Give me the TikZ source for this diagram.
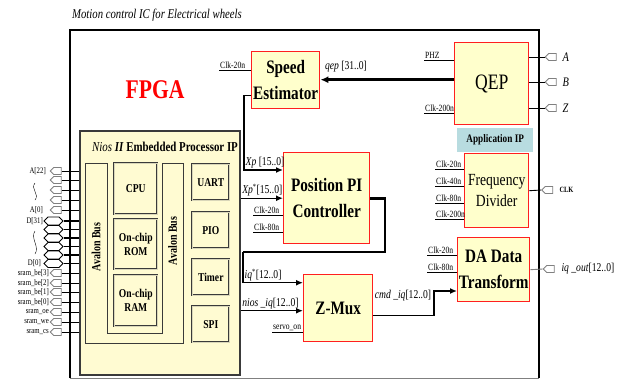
\documentclass[tikz,border=0pt]{standalone}
\usepackage{fontspec}
\setmainfont{Liberation Serif}[FakeStretch=0.8]
\usetikzlibrary{arrows.meta, positioning, shapes.symbols}
\definecolor{BoxFill}{HTML}{FFFFCC}
\definecolor{BoxLine}{HTML}{FF1F1F}
\definecolor{NiosFill}{HTML}{FFFBD2}
\definecolor{NiosLine}{HTML}{3A3A3A}
\definecolor{AppFill}{HTML}{B8DCE0}
\definecolor{PinLine}{HTML}{808080}
\newcommand{\fsz}[2]{\fontsize{#1}{#2}\selectfont}
\newcommand{\clkin}[5]{% coordinate, x, y, target block, label
    \coordinate (#1) at (#2,#3);
    \draw[wire] (#1) -- (#1 -| #4.west);
    \node[clk] (#1-lbl) at (#1) {#5};
}

\begin{document}
\begin{tikzpicture}[
    x=1pt, y=-1pt,
    blk/.style={draw=BoxLine, line width=1.4pt, fill=BoxFill, align=center,
        inner sep=0pt, anchor=north west, font=\bfseries\fsz{19}{26}},
    sub/.style={draw=NiosLine, line width=0.6pt, double=NiosFill!70!gray,
        double distance=0.6pt, fill=NiosFill, align=center,
        inner sep=0pt, anchor=north west, font=\bfseries\fsz{12}{14}},
    clk/.style={font=\fsz{9.5}{10}, anchor=south west, inner sep=1pt},
    sig/.style={font=\fsz{12}{12}, anchor=south west, inner sep=1.5pt},
    pinlbl/.style={font=\fsz{8.5}{9}, anchor=east, inner sep=0pt},
    wire/.style={line width=0.9pt},
    bus/.style={line width=2.6pt},
    arr/.style={-{Latex[length=7pt, width=6pt]}, line width=1.4pt},
    inpin/.style={signal, signal to=west, draw=PinLine, fill=white,
        line width=0.8pt, minimum width=11pt, minimum height=7pt, inner sep=0pt},
    iopin/.style={signal, signal to=west and east, draw=black, fill=white,
        line width=0.8pt, minimum width=19pt, minimum height=8pt, inner sep=0pt}
]
\useasboundingbox (0,0) rectangle (626,381);

% ===================================================================
% FRAME
% ===================================================================
\node[font=\itshape\fsz{13.4}{14}, anchor=west, inner sep=0pt] (title) at (72,15)
    {Motion control IC for Electrical wheels};
\draw[line width=2pt] (70,378) -- (70,30) -- (539,30) -- (539,378);
\draw[PinLine, line width=1pt] (70,378) -- (539,378);
\node[font=\bfseries\fsz{27}{27}, text=red] (fpga) at (155,90) {FPGA};

% ===================================================================
% NIOS II PROCESSOR
% ===================================================================
\node[draw=NiosLine, line width=1.6pt, fill=NiosFill, anchor=north west,
      minimum width=160pt, minimum height=244pt, inner sep=0pt] (nios) at (79,130) {};
\node[font=\fsz{13.6}{14}] (niostitle) at (165,147)
    {\textit{Nios \textbf{II}} \textbf{Embedded Processor IP}};

% Avalon bus
\draw[NiosLine, line width=0.8pt, fill=NiosFill]
    (85,163) -- (85,343) -- (183,343) -- (183,163) -- (162,163)
    -- (162,333) -- (107,333) -- (107,163) -- cycle;
\node[font=\bfseries\fsz{12.5}{12}, rotate=90] (busL) at (96,247) {Avalon Bus};
\node[font=\bfseries\fsz{12.5}{12}, rotate=90] (busR) at (172.5,241) {Avalon Bus};

% Core and memories
\node[sub, minimum width=43pt, minimum height=51pt] (cpu) at (114,163) {CPU};
\node[sub, minimum width=43pt, minimum height=50pt] (rom) at (114,219) {On-chip\\ROM};
\node[sub, minimum width=43pt, minimum height=51pt] (ram) at (114,275) {On-chip\\RAM};

% Peripherals
\foreach \t/\y in {UART/164, PIO/212, Timer/259, SPI/306} {
    \node[sub, minimum width=37pt, minimum height=36pt] (\t) at (192,\y) {\t};
}

% External SRAM pins
\foreach \y [count=\i] in {171,180,190,200,210} {
    \node[inpin] (apin\i) at (57.5,\y) {};
    \draw[wire] (apin\i.east) -- (apin\i.east -| nios.west);
}
\node[pinlbl] (alblA) at (46,171) {A[22]};
\node[pinlbl] (alblB) at (43,210) {A[0]};
\draw[thin] (35,183) .. controls (30,189) and (40,194) .. (35,200);

\foreach \y [count=\i] in {221,229.5,238,246.5,255,263.5} {
    \node[iopin] (dpin\i) at (53.5,\y) {};
    \draw[line width=1.2pt] (dpin\i.east) -- (dpin\i.east -| nios.west);
}
\node[pinlbl] (dlblA) at (43,221) {D[31]};
\node[pinlbl] (dlblB) at (41,263.5) {D[0]};
\draw[thin] (35,231) .. controls (30,238) and (40,247) .. (35,254);

\foreach \y/\t [count=\i] in {273/sram\_be[3], 283/sram\_be[2], 292/sram\_be[1],
        302/sram\_be[0], 312/sram\_oe, 322/sram\_we, 332/sram\_cs} {
    \node[inpin] (spin\i) at (57.5,\y) {};
    \node[pinlbl] (slbl\i) at (49,\y) {\t};
    \draw[wire] (spin\i.east) -- (spin\i.east -| nios.west);
}

% ===================================================================
% APPLICATION BLOCKS
% ===================================================================
\node[blk, minimum width=68pt, minimum height=57pt] (spd) at (251,51) {Speed\\Estimator};
\node[blk, minimum width=74pt, minimum height=82pt, font=\fsz{22}{22}] (qep) at (454,42) {QEP};
\node[fill=AppFill, anchor=north west, minimum width=76pt, minimum height=24pt,
      inner sep=0pt, font=\bfseries\fsz{11.5}{12}] (appip) at (457,128) {Application IP};
\node[blk, minimum width=64pt, minimum height=74pt, font=\fsz{17}{21}] (frq) at (464,153)
    {Frequency\\Divider};
\node[blk, minimum width=86pt, minimum height=91pt] (pos) at (283,152) {Position PI\\Controller};
\node[blk, minimum width=69pt, minimum height=67pt] (zmux) at (303,274) {Z-Mux};
\node[blk, minimum width=72pt, minimum height=64pt] (da) at (457,237) {DA Data\\Transform};

% Clock and control inputs
\clkin{spdclk}{219}{70}{spd}{Clk-20n}
\clkin{qepphz}{424}{60}{qep}{PHZ}
\clkin{qepclk}{424}{113}{qep}{Clk-200n}
\clkin{posclkA}{253}{215}{pos}{Clk-20n}
\clkin{posclkB}{253}{232}{pos}{Clk-80n}
\foreach \y/\t [count=\i] in {169/20n, 186/40n, 203/80n, 219/200n} {
    \clkin{frq\i}{435}{\y}{frq}{Clk-\t}
}
\clkin{daclkA}{427}{255}{da}{Clk-20n}
\clkin{daclkB}{427}{272}{da}{Clk-80n}
\clkin{servo}{272}{332}{zmux}{servo\_on}

% ===================================================================
% DATA PATHS
% ===================================================================
% QEP count to speed estimator
\coordinate (qout) at ([yshift=4pt]qep.west);
\draw[bus, -{Latex[length=8pt, width=7pt]}] (qout) -- (qout -| spd.east);
\node[sig, anchor=center] (qeplbl) at (346,67) {\textit{qep} [31..0]};

% Position feedback
\coordinate (spdout) at ([yshift=-15.5pt]spd.west);
\coordinate (xpbend) at (244,170);
\draw[arr] (spdout) -| (xpbend) -- (xpbend -| pos.west);
\node[sig] (xplbl) at (xpbend) {\textit{Xp} [15..0]};
\draw[arr] (pos.west -| nios.east) -- (pos.west);
\node[sig] (xpreflbl) at (pos.west -| nios.east) {\textit{Xp}\textsuperscript{*}[15..0]};

% Current command loop
\coordinate (loopR) at (385,252);
\coordinate (loopL) at (243,252);
\coordinate (zinA) at ([yshift=25.5pt]zmux.west);
\coordinate (zinB) at ([yshift=-2.5pt]zmux.west);
\draw[bus] (pos.east) -| (loopR) -- (loopL);
\draw[arr] (loopL) |- (zinA);
\node[sig] (iqlbl) at (loopL |- zinA) {\textit{iq}\textsuperscript{*}[12..0]};
\draw[arr] (zinB -| nios.east) -- (zinB);
\node[sig] (nioslbl) at (zinB -| nios.east) {\textit{nios \_iq}[12..0]};

% Mux output to DA
\coordinate (zout) at ([yshift=-7.5pt]zmux.east);
\coordinate (cmdbend) at (434,291);
\draw[arr] (zout) -| (cmdbend) -- (cmdbend -| da.west);
\node[sig, anchor=center] (cmdlbl) at (403,296) {\textit{cmd \_iq}[12..0]};

% ===================================================================
% OUTPUT PINS
% ===================================================================
\foreach \t/\y in {A/57, B/82, Z/108} {
    \node[inpin] (pin\t) at (552.5,\y) {};
    \draw[wire] (pin\t.west -| qep.east) -- (pin\t.west);
    \node[font=\itshape\fsz{13}{13}, anchor=west] (lbl\t) at (559,\y) {\t};
}
\node[inpin] (clkpin) at (549,190) {};
\draw[wire] (frq.east) -- (clkpin.west);
\node[font=\bfseries\fsz{8}{8}, anchor=west] (clklbl) at (556,190) {CLK};
\node[inpin] (iqpin) at (550.5,269) {};
\draw[wire, PinLine] (da.east) -- (iqpin.west);
\node[font=\fsz{12}{12}, anchor=west] (iqoutlbl) at (558,269) {\textit{iq \_out}[12..0]};

\end{tikzpicture}
\end{document}
